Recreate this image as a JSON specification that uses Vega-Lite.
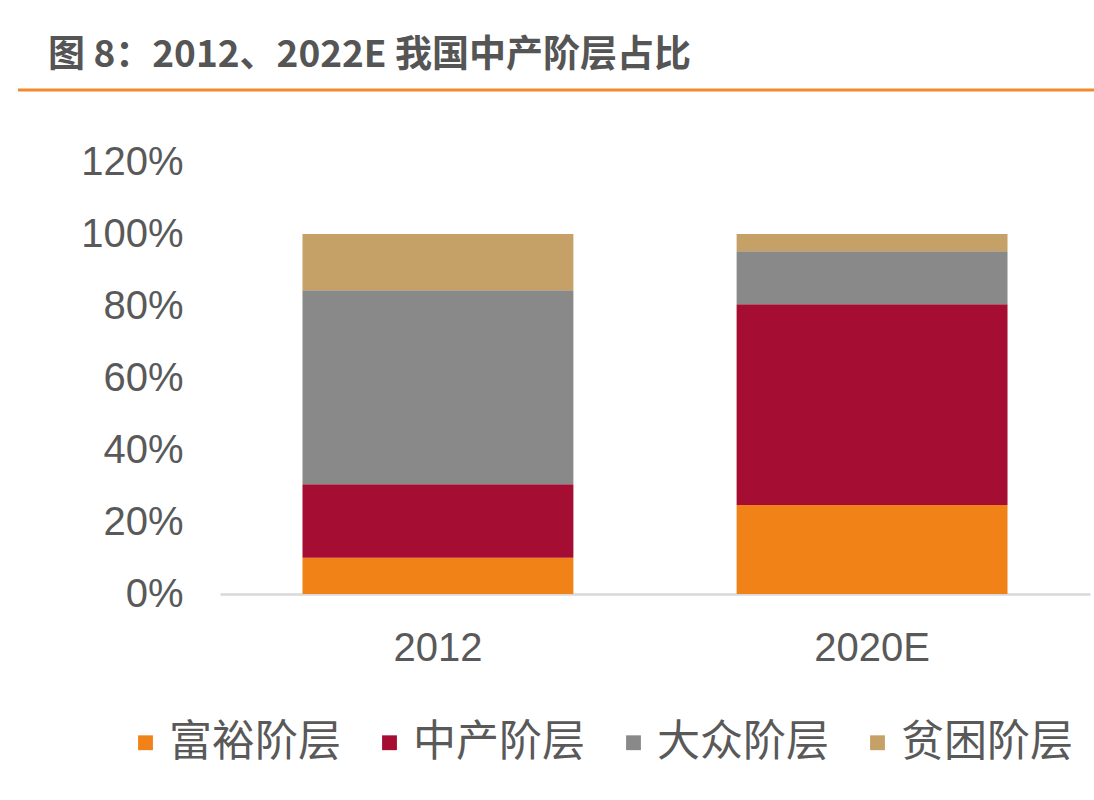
{
  "$schema": "https://vega.github.io/schema/vega-lite/v6.json",
  "width": 870,
  "height": 432,
  "autosize": {"type": "none"},
  "padding": {"left": 220, "top": 162, "right": 4, "bottom": 206},
  "background": "white",
  "title": {
    "text": "图 8：2012、2022E 我国中产阶层占比",
    "anchor": "start",
    "frame": "group",
    "dx": -172,
    "offset": 14,
    "font": "Noto Sans CJK SC",
    "fontSize": 37,
    "fontWeight": "bold",
    "color": "#555555"
  },
  "config": {"view": {"stroke": null}},
  "layer": [
    {
      "data": {
        "values": [
          {"year": "2012", "class": "富裕阶层", "rank": 1, "share": 0.101},
          {"year": "2012", "class": "中产阶层", "rank": 2, "share": 0.204},
          {"year": "2012", "class": "大众阶层", "rank": 3, "share": 0.539},
          {"year": "2012", "class": "贫困阶层", "rank": 4, "share": 0.156},
          {"year": "2020E", "class": "富裕阶层", "rank": 1, "share": 0.247},
          {"year": "2020E", "class": "中产阶层", "rank": 2, "share": 0.558},
          {"year": "2020E", "class": "大众阶层", "rank": 3, "share": 0.147},
          {"year": "2020E", "class": "贫困阶层", "rank": 4, "share": 0.048}
        ]
      },
      "mark": {"type": "bar"},
      "encoding": {
        "x": {
          "field": "year",
          "type": "nominal",
          "sort": ["2012", "2020E"],
          "scale": {"paddingInner": 0.376, "paddingOuter": 0.19},
          "axis": {
            "title": null,
            "labelAngle": 0,
            "domain": true,
            "domainColor": "#d9d9d9",
            "domainWidth": 2.5,
            "ticks": false,
            "grid": false,
            "labelFont": "Liberation Sans",
            "labelFontSize": 40,
            "labelColor": "#595959",
            "labelPadding": 34
          }
        },
        "y": {
          "field": "share",
          "type": "quantitative",
          "stack": "zero",
          "scale": {"domain": [0, 1.2]},
          "axis": {
            "title": null,
            "format": ".0%",
            "values": [0, 0.2, 0.4, 0.6, 0.8, 1, 1.2],
            "domain": false,
            "ticks": false,
            "grid": false,
            "labelFont": "Liberation Sans",
            "labelFontSize": 40,
            "labelColor": "#595959",
            "labelPadding": 37
          }
        },
        "color": {
          "field": "class",
          "type": "nominal",
          "scale": {
            "domain": ["富裕阶层", "中产阶层", "大众阶层", "贫困阶层"],
            "range": ["#F08218", "#A50D32", "#898989", "#C5A067"]
          },
          "legend": {
            "orient": "none",
            "legendX": -96,
            "legendY": 559,
            "direction": "horizontal",
            "title": null,
            "symbolType": "square",
            "symbolSize": 220,
            "symbolStrokeWidth": 0,
            "labelFont": "Noto Sans CJK SC",
            "labelFontSize": 43,
            "labelColor": "#595959",
            "labelOffset": 2,
            "labelLimit": 400,
            "columnPadding": 27
          }
        },
        "order": {"field": "rank", "type": "quantitative"}
      }
    },
    {
      "data": {"values": [{"line": "title rule"}]},
      "mark": {"type": "rule", "color": "#F08A2C", "strokeWidth": 3},
      "encoding": {
        "y": {"datum": 1.4},
        "x": {"value": -202},
        "x2": {"value": 874}
      }
    }
  ]
}
